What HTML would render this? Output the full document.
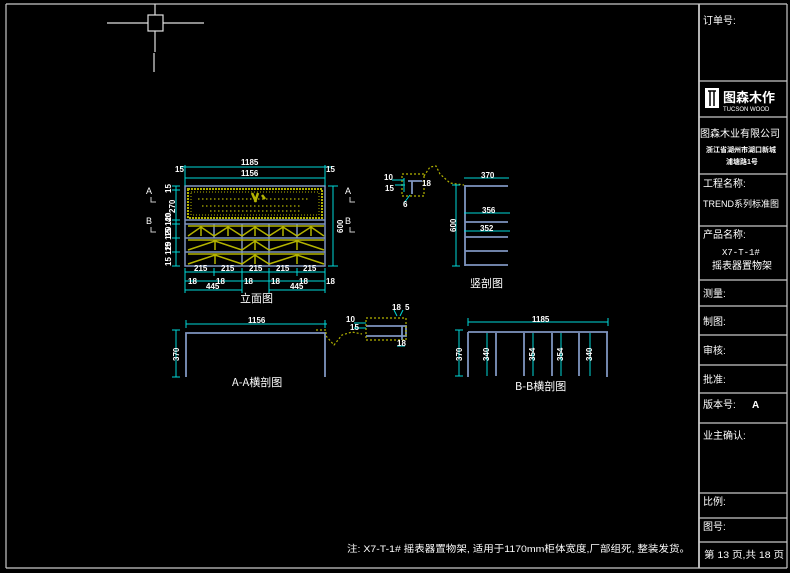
<!DOCTYPE html>
<html><head><meta charset="utf-8"><style>
html,body{margin:0;padding:0;background:#000;}
svg{display:block}
text{font-family:"Liberation Sans","Noto Sans CJK SC",sans-serif;fill:#fff}
.cjk{font-family:"Noto Sans CJK SC","WenQuanYi Zen Hei",sans-serif}
.mono{font-family:"Liberation Mono","Noto Sans CJK SC",monospace}
</style></head><body>
<svg width="790" height="573" viewBox="0 0 790 573" xmlns="http://www.w3.org/2000/svg">
<rect width="790" height="573" fill="#000"/>
<g stroke="#c8c8c8" fill="none" stroke-width="1.2">
<line x1="6" y1="4" x2="787" y2="4"/>
<line x1="6" y1="4" x2="6" y2="568"/>
<line x1="6" y1="568" x2="787" y2="568"/>
<line x1="787" y1="4" x2="787" y2="568"/>
<line x1="699" y1="4" x2="699" y2="568" stroke-width="1.8"/>
<line x1="699" y1="81" x2="787" y2="81"/>
<line x1="699" y1="117" x2="787" y2="117"/>
<line x1="699" y1="174" x2="787" y2="174"/>
<line x1="699" y1="226" x2="787" y2="226"/>
<line x1="699" y1="280" x2="787" y2="280"/>
<line x1="699" y1="306" x2="787" y2="306"/>
<line x1="699" y1="335" x2="787" y2="335"/>
<line x1="699" y1="365" x2="787" y2="365"/>
<line x1="699" y1="393" x2="787" y2="393"/>
<line x1="699" y1="423" x2="787" y2="423"/>
<line x1="699" y1="493" x2="787" y2="493"/>
<line x1="699" y1="518" x2="787" y2="518"/>
<line x1="699" y1="542" x2="787" y2="542"/>
</g>
<g stroke="#e0e0e0" stroke-width="1.2" fill="none">
<line x1="107" y1="23" x2="148" y2="23"/><line x1="163" y1="23" x2="204" y2="23"/>
<line x1="155" y1="4" x2="155" y2="15"/><line x1="155" y1="31" x2="155" y2="52"/>
<line x1="154" y1="53" x2="154" y2="72"/>
<rect x="148" y="15" width="15" height="16"/>
</g>
<g class="cjk" font-size="10">
<text x="703" y="24">订单号:</text>
<rect x="705" y="88" width="14" height="20" fill="#fff"/>
<path d="M708 91 h8 M710 91 v15 M714 91 v15" stroke="#000" stroke-width="1.5"/>
<text x="723" y="102" font-size="13" font-weight="bold">图森木作</text>
<text x="723" y="111" font-size="6" style="font-family:'Liberation Sans',sans-serif">TUCSON WOOD</text>
<text x="700" y="137" font-size="10">图森木业有限公司</text>
<text x="706" y="152" font-size="7" font-weight="bold">浙江省湖州市湖口新城</text>
<text x="726" y="164" font-size="7" font-weight="bold">浦塘路1号</text>
<text x="703" y="187">工程名称:</text>
<text x="703" y="207" font-size="9">TREND系列标准图</text>
<text x="703" y="238">产品名称:</text>
<text x="722" y="255" font-size="9" class="mono">X7-T-1#</text>
<text x="712" y="269">摇表器置物架</text>
<text x="703" y="297">测量:</text>
<text x="703" y="325">制图:</text>
<text x="703" y="354">审核:</text>
<text x="703" y="383">批准:</text>
<text x="703" y="408">版本号:</text>
<text x="752" y="408" font-weight="bold">A</text>
<text x="703" y="439">业主确认:</text>
<text x="703" y="505">比例:</text>
<text x="703" y="530">图号:</text>
<text x="704" y="558" font-size="9.5" textLength="80" lengthAdjust="spacingAndGlyphs">第 13 页,共 18 页</text>
<text x="347" y="552" font-size="9.5" textLength="343" lengthAdjust="spacingAndGlyphs">注: X7-T-1# 摇表器置物架, 适用于1170mm柜体宽度,厂部组死, 整装发货。</text>
</g>

<g stroke="#7f95c0" stroke-width="1.5" fill="none">
<rect x="185" y="186" width="140" height="80"/>
<line x1="185" y1="220" x2="325" y2="220"/>
<line x1="185" y1="224" x2="325" y2="224"/>
<line x1="185" y1="238" x2="325" y2="238"/>
<line x1="185" y1="252" x2="325" y2="252"/>
<line x1="214" y1="224" x2="214" y2="238"/>
<line x1="242" y1="224" x2="242" y2="266"/>
<line x1="269" y1="224" x2="269" y2="266"/>
<line x1="297" y1="224" x2="297" y2="238"/>
</g>
<g stroke="#b4b400" fill="none">
<rect x="188" y="189" width="134" height="29" stroke-dasharray="2,1" stroke-width="2"/>
<rect x="191" y="192" width="128" height="23" stroke-dasharray="1,2" stroke-width="1"/>
<path d="M198 199h110 M202 206h100 M210 211h90" stroke-dasharray="1.5,2.5" stroke-width="1.3"/>
<path d="M252 193 l4 9 M258 193 l-3 9 M262 195 l3 4" stroke-width="2.5"/>
<g stroke-width="1.5">
<path d="M188 236 L201 227 L214 236 M201 227 v9 M188 226h26"/>
<path d="M214 236 L228 227 L242 236 M228 227 v9 M214 226h28"/>
<path d="M242 236 L255 227 L269 236 M255 227 v9 M242 226h27"/>
<path d="M269 236 L283 227 L297 236 M283 227 v9 M269 226h28"/>
<path d="M297 236 L311 227 L324 236 M311 227 v9 M297 226h27"/>
<path d="M188 250 L215 241 L242 250 M215 241 v9 M188 240h54"/>
<path d="M242 250 L255 241 L269 250 M255 241 v9 M242 240h27"/>
<path d="M269 250 L297 241 L324 250 M297 241 v9 M269 240h55"/>
<path d="M188 264 L215 255 L242 264 M215 255 v9 M188 254h54"/>
<path d="M242 264 L255 255 L269 264 M255 255 v9 M242 254h27"/>
<path d="M269 264 L297 255 L324 264 M297 255 v9 M269 254h55"/>
</g>
</g>
<g stroke="#00d8d8" stroke-width="1" fill="none">
<line x1="180" y1="167" x2="332" y2="167"/>
<line x1="185" y1="178" x2="325" y2="178"/>
<line x1="185" y1="165" x2="185" y2="186"/><line x1="325" y1="165" x2="325" y2="186"/>
<line x1="333" y1="186" x2="333" y2="266"/>
<line x1="328" y1="186" x2="338" y2="186"/><line x1="328" y1="266" x2="338" y2="266"/>
<line x1="176" y1="186" x2="176" y2="266"/>
<path d="M172 186h8M172 190h8M172 220h8M172 224h8M172 238h8M172 252h8M172 266h8"/>
<line x1="185" y1="272" x2="325" y2="272"/>
<line x1="185" y1="281" x2="325" y2="281"/>
<line x1="185" y1="290" x2="242" y2="290"/><line x1="269" y1="290" x2="325" y2="290"/>
<path d="M185 268v25M214 268v8M242 268v25M269 268v25M297 268v8M325 268v25"/>
</g>
<g font-size="8" font-weight="bold">
<text x="241" y="165">1185</text><text x="241" y="176">1156</text>
<text x="175" y="172">15</text><text x="326" y="172">15</text>
<text x="194" y="271">215</text><text x="221" y="271">215</text><text x="249" y="271">215</text><text x="276" y="271">215</text><text x="303" y="271">215</text>
<text x="188" y="284">18</text><text x="216" y="284">18</text><text x="244" y="284">18</text><text x="271" y="284">18</text><text x="299" y="284">18</text><text x="326" y="284">18</text>
<text x="206" y="289">445</text><text x="290" y="289">445</text>
<text transform="translate(343,233) rotate(-90)">600</text>
<text transform="translate(175,213) rotate(-90)">270</text>
<text transform="translate(171,193) rotate(-90)">15</text>
<text transform="translate(171,222) rotate(-90)">40</text>
<text transform="translate(171,237) rotate(-90)">15 120</text>
<text transform="translate(171,251) rotate(-90)">15 120</text>
<text transform="translate(171,266) rotate(-90)">15 120</text>
</g>
<g font-size="9" fill="#ddd">
<text x="146" y="194">A</text><text x="146" y="224">B</text>
<text x="345" y="194">A</text><text x="345" y="224">B</text>
</g>
<g stroke="#ccc" fill="none"><path d="M151 197v5h5M151 227v5h5M350 197v5h5M350 227v5h5"/></g>
<text x="240" y="302" font-size="11" class="cjk">立面图</text>

<g stroke="#7f95c0" stroke-width="1.8" fill="none">
<line x1="465" y1="185" x2="465" y2="266"/>
<line x1="465" y1="186" x2="508" y2="186"/>
<line x1="465" y1="222" x2="508" y2="222"/>
<line x1="465" y1="237" x2="508" y2="237"/>
<line x1="465" y1="251" x2="508" y2="251"/>
<line x1="465" y1="265" x2="508" y2="265"/>
<path d="M408 181h14M412 181v13"/>
</g>
<g stroke="#b4b400" stroke-width="1.2" stroke-dasharray="2,2" fill="none">
<rect x="402" y="174" width="22" height="22"/>
<path d="M424 176 L430 167 L436 166 L440 174 L450 183 L464 185"/>
</g>
<g stroke="#00d8d8" stroke-width="1" fill="none">
<line x1="456" y1="185" x2="456" y2="266"/>
<path d="M452 185h8M452 266h8"/>
<line x1="464" y1="178" x2="509" y2="178"/>
<line x1="464" y1="213" x2="510" y2="213"/>
<line x1="464" y1="231" x2="510" y2="231"/>
<path d="M392 180h12M395 185h10M404 178v14M410 195l-6 8"/>
</g>
<g font-size="8" font-weight="bold">
<text x="481" y="178">370</text><text x="482" y="213">356</text><text x="480" y="231">352</text>
<text transform="translate(456,232) rotate(-90)">600</text>
<text x="384" y="180">10</text><text x="385" y="191">15</text><text x="422" y="186">18</text><text x="403" y="207">6</text>
</g>
<text x="470" y="287" font-size="11" class="cjk">竖剖图</text>

<g stroke="#7f95c0" stroke-width="1.8" fill="none">
<path d="M186 377V333H325V377"/>
<path d="M366 326h40v10h-40M402 326v14"/>
</g>
<g stroke="#b4b400" stroke-width="1.2" stroke-dasharray="2,2" fill="none">
<rect x="366" y="318" width="40" height="22"/>
<path d="M316 330h10v6 l8 9 l8 -10 l10 -3 l10 2"/>
</g>
<g stroke="#00d8d8" stroke-width="1" fill="none">
<line x1="186" y1="324" x2="327" y2="324"/>
<path d="M186 320v8M325 320v8"/>
<line x1="176" y1="330" x2="176" y2="377"/><path d="M172 330h8M172 377h8"/>
<path d="M354 323h12M354 328h12M394 310l3 6M403 310l-3 6M397 346h8"/>
</g>
<g font-size="8" font-weight="bold">
<text x="248" y="323">1156</text>
<text transform="translate(179,361) rotate(-90)">370</text>
<text x="346" y="322">10</text><text x="350" y="330">15</text>
<text x="392" y="310">18</text><text x="405" y="310">5</text><text x="397" y="346">18</text>
</g>
<text x="232" y="386" font-size="11" class="cjk">A-A横剖图</text>

<g stroke="#7f95c0" stroke-width="1.8" fill="none">
<line x1="468" y1="332" x2="608" y2="332"/>
<path d="M468 332v45M496 333v43M524 333v43M552 333v43M579 333v43M607 332v45"/>
</g>
<g stroke="#00d8d8" stroke-width="1" fill="none">
<line x1="468" y1="322" x2="608" y2="322"/>
<path d="M468 318v8M608 318v8"/>
<line x1="459" y1="330" x2="459" y2="376"/><path d="M455 330h8M455 376h8"/>
<path d="M487 333v43M533 333v43M561 333v43M590 333v43"/>
</g>
<g font-size="8" font-weight="bold">
<text x="532" y="322">1185</text>
<text transform="translate(462,361) rotate(-90)">370</text>
<text transform="translate(489,361) rotate(-90)">340</text>
<text transform="translate(535,361) rotate(-90)">354</text>
<text transform="translate(563,361) rotate(-90)">354</text>
<text transform="translate(592,361) rotate(-90)">340</text>
</g>
<text x="515" y="390" font-size="11" class="cjk">B-B横剖图</text>
</svg>
</body></html>
